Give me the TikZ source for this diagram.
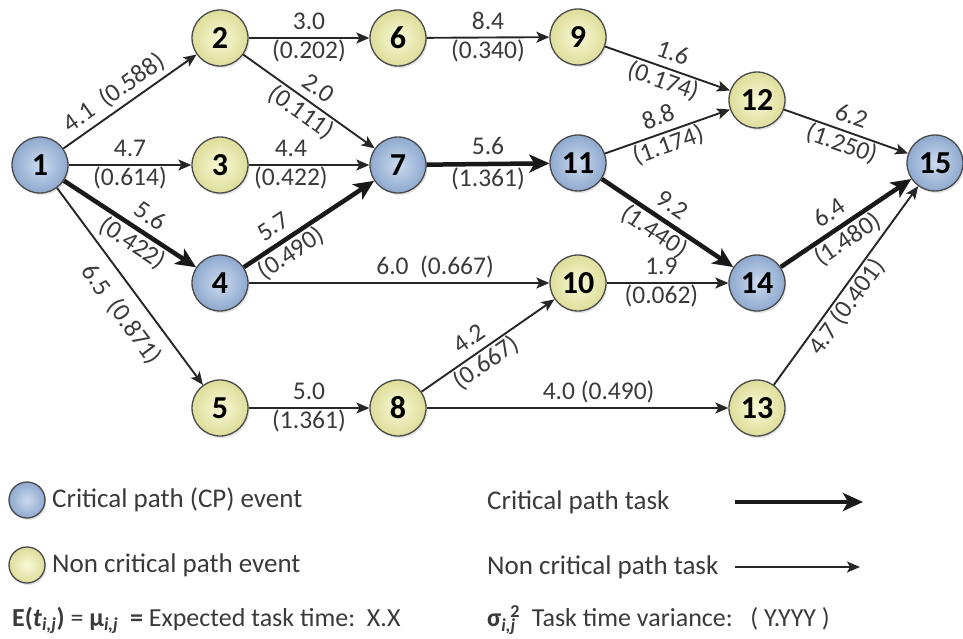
\documentclass[tikz,border=0pt]{standalone}
\usepackage{fontspec}
\setmainfont{Carlito}
\usetikzlibrary{arrows.meta,shadows}
\definecolor{cpin}{HTML}{CCDAEE}
\definecolor{cpout}{HTML}{8EA9CF}
\definecolor{ncin}{HTML}{F8F8D6}
\definecolor{ncout}{HTML}{DEDD9A}
\definecolor{rim}{HTML}{4A4A4A}
\definecolor{txt}{HTML}{3A3A3A}
\begin{document}
\begin{tikzpicture}[x=1pt,y=-1pt,
  ev/.style={circle, minimum size=56pt, inner sep=0pt, draw=rim, line width=1.3pt,
    font=\fontsize{32}{36}\selectfont\bfseries, text=black,
    drop shadow={opacity=0.22,shadow xshift=1.5pt,shadow yshift=-2pt}},
  cp/.style={ev, inner color=cpin, outer color=cpout},
  nc/.style={ev, inner color=ncin, outer color=ncout},
  task/.style={-{Stealth[length=13pt,width=11pt,inset=3pt]}, line width=1.9pt, draw=black!85},
  crit/.style={-{Stealth[length=20pt,width=18pt,inset=5pt]}, line width=4.5pt, draw=black!90},
  lbl/.style={font=\fontsize{25.5}{30}\selectfont, text=txt, inner sep=2pt, text height=18pt, text depth=5.5pt},
  legtxt/.style={font=\fontsize{27}{31}\selectfont, text=txt, inner sep=0pt, anchor=west},
]
\useasboundingbox (0,0) rectangle (963,639);

% events
\node[cp] (n1) at (40,165) {1};
\node[nc] (n2) at (220,38) {2};
\node[nc] (n3) at (220,165) {3};
\node[cp] (n4) at (220,283) {4};
\node[nc] (n5) at (220,408) {5};
\node[nc] (n6) at (398,38) {6};
\node[cp] (n7) at (398,165) {7};
\node[nc] (n8) at (398,408) {8};
\node[nc] (n9) at (578,37) {9};
\node[nc] (n10) at (578,283) {10};
\node[cp] (n11) at (578,163) {11};
\node[nc] (n12) at (757,100) {12};
\node[nc] (n13) at (757,408) {13};
\node[cp] (n14) at (757,283) {14};
\node[cp] (n15) at (935,163) {15};

% tasks
\draw[task] (n1) -- node[lbl,above,sloped,pos=0.45]{4.1\ \ (0.588)} (n2);
\draw[task] (n1) -- node[lbl,above]{4.7} node[lbl,below]{(0.614)} (n3);
\draw[crit] (n1) -- node[lbl,above,sloped,pos=0.58]{5.6} node[lbl,below,sloped,pos=0.58]{(0.422)} (n4);
\draw[task] (n1) -- node[lbl,below,sloped,pos=0.57,inner ysep=12pt]{6.5\ \ (0.871)} (n5);
\draw[task] (n2) -- node[lbl,above]{3.0} node[lbl,below]{(0.202)} (n6);
\draw[task] (n2) -- node[lbl,above,sloped]{2.0} node[lbl,below,sloped]{(0.111)} (n7);
\draw[task] (n3) -- node[lbl,above,pos=0.35]{4.4} node[lbl,below,pos=0.35]{(0.422)} (n7);
\draw[crit] (n4) -- node[lbl,above,sloped,pos=0.3]{5.7} node[lbl,below,sloped,pos=0.3]{(0.490)} (n7);
\draw[task] (n4) -- node[lbl,above,pos=0.62]{6.0\ \ (0.667)} (n10);
\draw[task] (n5) -- node[lbl,above]{5.0} node[lbl,below]{(1.361)} (n8);
\draw[task] (n6) -- node[lbl,above]{8.4} node[lbl,below]{(0.340)} (n9);
\draw[crit] (n7) -- node[lbl,above]{5.6} node[lbl,below]{(1.361)} (n11);
\draw[task] (n8) -- node[lbl,above,sloped,pos=0.43]{4.2} node[lbl,below,sloped,pos=0.43]{(0.667)} (n10);
\draw[task] (n8) -- node[lbl,above,pos=0.57]{4.0 (0.490)} (n13);
\draw[task] (n9) -- node[lbl,above,sloped]{1.6} node[lbl,below,sloped]{(0.174)} (n12);
\draw[task] (n10) -- node[lbl,above,pos=0.45]{1.9} node[lbl,below,pos=0.45]{(0.062)} (n14);
\draw[task] (n11) -- node[lbl,above,sloped,pos=0.47]{8.8} node[lbl,below,sloped,pos=0.47]{(1.174)} (n12);
\draw[crit] (n11) -- node[lbl,above,sloped,pos=0.46]{9.2} node[lbl,below,sloped,pos=0.46]{(1.440)} (n14);
\draw[task] (n12) -- node[lbl,above,sloped]{6.2} node[lbl,below,sloped]{(1.250)} (n15);
\draw[crit] (n14) -- node[lbl,above,sloped,pos=0.45]{6.4} node[lbl,below,sloped,pos=0.45]{(1.480)} (n15);
\draw[task] (n13) -- node[lbl,below,sloped,pos=0.43]{4.7 (0.401)} (n15);

% legend
\node[cp, minimum size=36pt] (lg1) at (27,500) {};
\node[legtxt] (lt1) at (52,500) {Critical path (CP) event};
\node[nc, minimum size=36pt] (lg2) at (27,565) {};
\node[legtxt] (lt2) at (52,565) {Non critical path event};
\node[legtxt, font=\fontsize{26}{30}\selectfont] (lt3) at (12,620)
  {\textbf{E(\textit{t}}\textsubscript{\textbf{\textit{i,j}}}\textbf{)} = \textbf{μ}\textsubscript{\textbf{\textit{i,j}}}\ \ \textbf{=} Expected\ task time:\ \ X.X};
\node[legtxt] (lt4) at (487,502) {Critical path task};
\node[legtxt] (lt5) at (487,567) {Non critical path task};
\node[legtxt, font=\fontsize{26}{30}\selectfont] (lt6) at (487,620)
  {\textbf{σ}\textsubscript{\textbf{\textit{i,j}}}\kern-0.2em\textsuperscript{\textbf{2}}\ \ Task time variance:\ \ \ ( Y.YYY )};
\coordinate (a1s) at (735,502);
\coordinate (a1e) at (863,502);
\coordinate (a2s) at (735,567);
\coordinate (a2e) at (860,567);
\draw[crit] (a1s) -- (a1e);
\draw[task] (a2s) -- (a2e);
\end{tikzpicture}
\end{document}
